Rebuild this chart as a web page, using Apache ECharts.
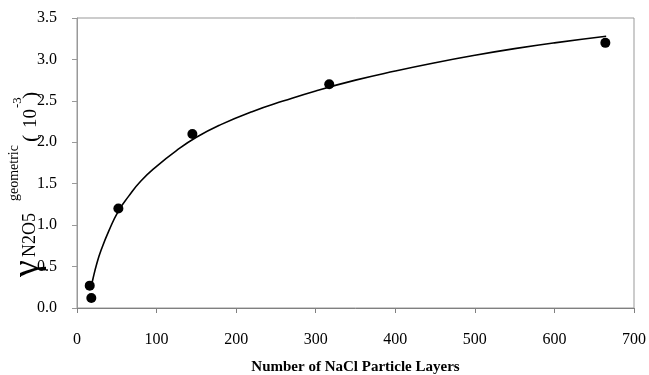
<!DOCTYPE html>
<html>
<head>
<meta charset="utf-8">
<script src="https://cdn.jsdelivr.net/npm/echarts@6/dist/echarts.min.js"></script>
<style>
html,body{margin:0;padding:0;background:#fff;}
#chart{width:649px;height:375px;}
</style>
</head>
<body>
<div id="chart"></div>
<script>
// Measured points
var layersX = [16, 18, 52, 145, 317, 664];
var gammaY = [0.27, 0.12, 1.20, 2.10, 2.70, 3.20];
// Trend curve
var fitX = [18, 20, 25, 30, 40, 52, 65, 80, 100, 125, 150, 180, 220, 260, 300, 350, 400, 450, 500, 550, 600, 665];
var fitY = [0.26, 0.35, 0.54, 0.69, 0.93, 1.17, 1.35, 1.53, 1.71, 1.90, 2.06, 2.21, 2.37, 2.50, 2.62, 2.75, 2.86, 2.96, 3.05, 3.13, 3.20, 3.28];
// Axis ticks
var xTicks = [0, 100, 200, 300, 400, 500, 600, 700];
var yTicks = [0.0, 0.5, 1.0, 1.5, 2.0, 2.5, 3.0, 3.5];
var xTitle = 'Number of NaCl Particle Layers';

var points = layersX.map(function (x, i) { return [x, gammaY[i]]; });
var curve = fitX.map(function (x, i) { return [x, fitY[i]]; });

var serif = '"Liberation Serif", "Times New Roman", serif';
var chart = echarts.init(document.getElementById('chart'), null, {renderer: 'canvas'});

function rt(text, x, y, size) {
  return {
    type: 'text', x: x, y: y, rotation: Math.PI / 2,
    style: {text: text, font: size + 'px ' + serif, fill: '#000', align: 'left', verticalAlign: 'middle'}
  };
}

chart.setOption({
  animation: false,
  backgroundColor: '#fff',
  grid: {left: 77, right: 15, top: 18, bottom: 67, containLabel: false, outerBoundsMode: 'none',
         show: true, borderColor: '#999', borderWidth: 1, backgroundColor: 'transparent'},
  xAxis: {
    type: 'value', min: xTicks[0], max: xTicks[xTicks.length - 1], interval: 100,
    name: xTitle, nameLocation: 'middle', nameGap: 52,
    nameTextStyle: {fontFamily: serif, fontWeight: 'bold', fontSize: 15, color: '#000'},
    axisLine: {show: true, lineStyle: {color: '#808080', width: 1}},
    axisTick: {show: true, inside: false, length: 5, lineStyle: {color: '#808080'}},
    axisLabel: {margin: 24, fontFamily: serif, fontSize: 16, color: '#000'},
    splitLine: {show: false}
  },
  yAxis: {
    type: 'value', min: yTicks[0], max: yTicks[yTicks.length - 1], interval: 0.5,
    axisLine: {show: true, lineStyle: {color: '#999', width: 1}},
    axisTick: {show: true, inside: false, length: 5, lineStyle: {color: '#999'}},
    axisLabel: {margin: 20, fontFamily: serif, fontSize: 16, color: '#000', formatter: function (v) { return v.toFixed(1); }},
    splitLine: {show: false}
  },
  series: [
    {type: 'line', data: curve, smooth: true, showSymbol: false, symbol: 'none',
     lineStyle: {color: '#000', width: 1.6}, z: 2},
    {type: 'scatter', data: points, symbol: 'circle', symbolSize: 10, itemStyle: {color: '#000', opacity: 1}, z: 3}
  ],
  graphic: [
    rt('\u03B3', 28, 277, 38),
    rt('N2O5', 30, 257, 18),
    rt('geometric', 14, 201, 14),
    rt('(', 31, 142, 22),
    rt('10', 31, 128, 19),
    rt('-3', 18, 108, 13),
    rt(')', 31, 99, 22)
  ]
});
</script>
</body>
</html>
